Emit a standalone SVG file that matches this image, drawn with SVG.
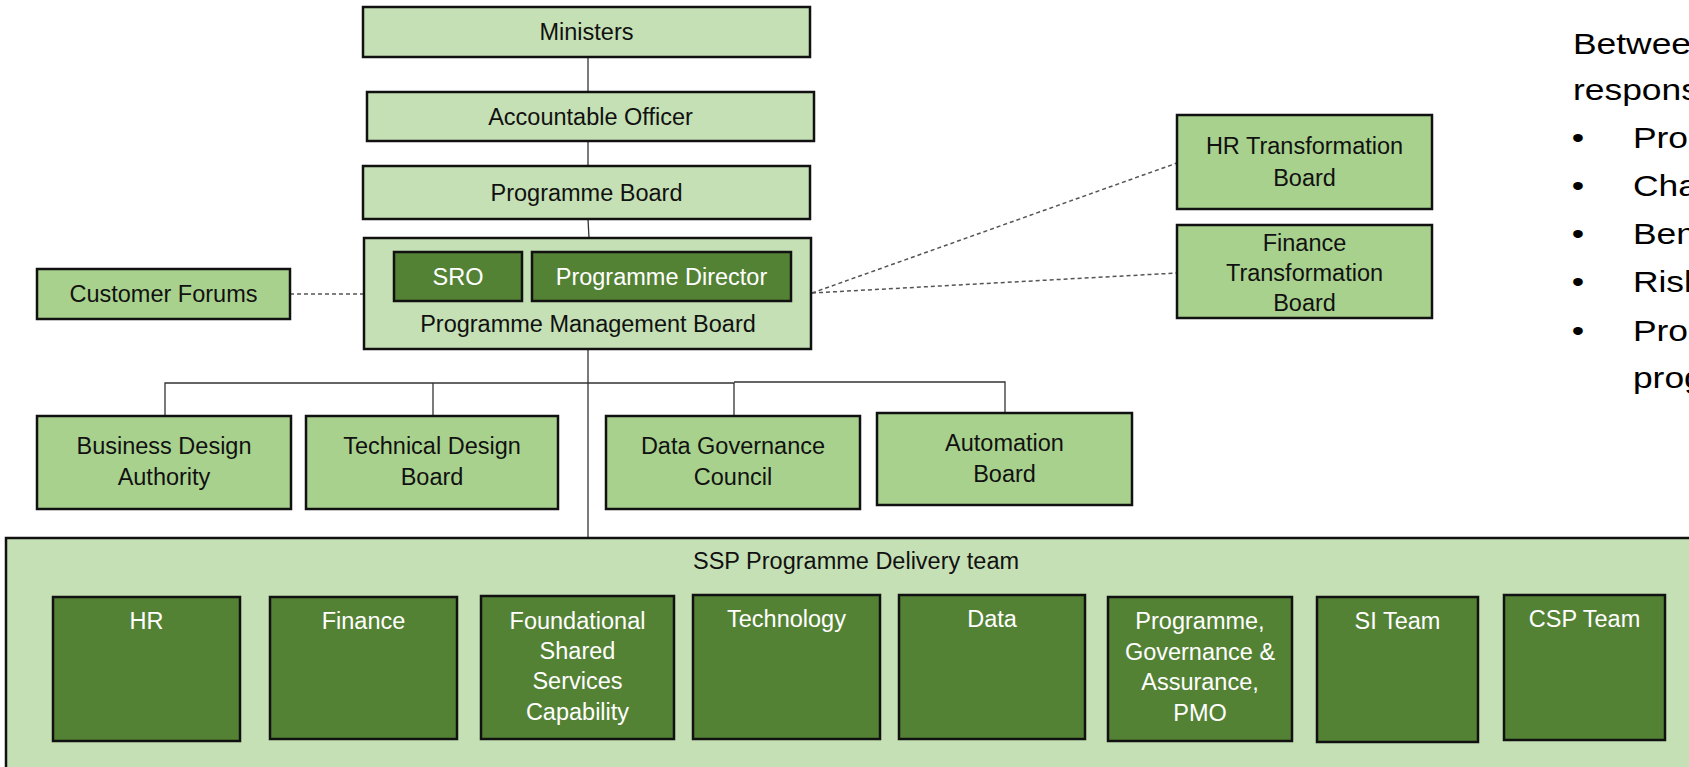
<svg xmlns="http://www.w3.org/2000/svg" width="1689" height="767" viewBox="0 0 1689 767">
<style>
.lt{fill:#C5E0B4;stroke:#111;stroke-width:2.5}
.md{fill:#A9D18E;stroke:#111;stroke-width:2.5}
.dk{fill:#548235;stroke:#111;stroke-width:2.5}
.t{font-family:"Liberation Sans",Arial,sans-serif;font-size:23.5px;fill:#111;text-anchor:middle}
.w{font-family:"Liberation Sans",Arial,sans-serif;font-size:23.5px;fill:#fff;text-anchor:middle}
.side{font-family:"Liberation Sans",Arial,sans-serif;font-size:30px;fill:#000}
.ln{stroke:#333;stroke-width:1.3;fill:none}
.ds{stroke:#555;stroke-width:1.5;stroke-dasharray:4 3;fill:none}
</style>
<rect width="1689" height="767" fill="#fff"/>
<g id="connectors">
<line class="ln" x1="588" y1="57" x2="588" y2="92"/>
<line class="ln" x1="588" y1="141" x2="588" y2="166"/>
<line class="ln" x1="588" y1="219" x2="589" y2="238"/>
<line class="ln" x1="588" y1="349" x2="588" y2="538"/>
<polyline class="ln" points="165,416 165,383 433,383 588,383"/>
<line class="ln" x1="433" y1="383" x2="433" y2="416"/>
<polyline class="ln" points="588,383 734,383 734,416"/>
<polyline class="ln" points="734,382 1005,382 1005,413"/>
<line class="ds" x1="290" y1="294" x2="364" y2="294"/>
<line class="ds" x1="812" y1="293" x2="1177" y2="163"/>
<line class="ds" x1="812" y1="293" x2="1177" y2="273"/>
</g>
<g id="ministers"><rect class="lt" x="363" y="7" width="447" height="50"/><text class="t" x="586.5" y="40">Ministers</text></g>
<g id="accountable-officer"><rect class="lt" x="367" y="92" width="447" height="49"/><text class="t" x="590.5" y="125">Accountable Officer</text></g>
<g id="programme-board"><rect class="lt" x="363" y="166" width="447" height="53"/><text class="t" x="586.5" y="201">Programme Board</text></g>
<g id="programme-management-board"><rect class="lt" x="364" y="238" width="447" height="111"/><text class="t" x="588" y="332">Programme Management Board</text></g>
<g id="sro"><rect class="dk" x="394" y="252" width="128" height="49"/><text class="w" x="458" y="285">SRO</text></g>
<g id="programme-director"><rect class="dk" x="532" y="252" width="259" height="49"/><text class="w" x="661.5" y="285">Programme Director</text></g>
<g id="customer-forums"><rect class="md" x="37" y="269" width="253" height="50"/><text class="t" x="163.5" y="302">Customer Forums</text></g>
<g id="hr-transformation-board"><rect class="md" x="1177" y="115" width="255" height="94"/><text class="t" x="1304.5" y="154">HR Transformation</text><text class="t" x="1304.5" y="186">Board</text></g>
<g id="finance-transformation-board"><rect class="md" x="1177" y="225" width="255" height="93"/><text class="t" x="1304.5" y="251">Finance</text><text class="t" x="1304.5" y="281">Transformation</text><text class="t" x="1304.5" y="311">Board</text></g>
<g id="business-design-authority"><rect class="md" x="37" y="416" width="254" height="93"/><text class="t" x="164" y="454">Business Design</text><text class="t" x="164" y="485">Authority</text></g>
<g id="technical-design-board"><rect class="md" x="306" y="416" width="252" height="93"/><text class="t" x="432" y="454">Technical Design</text><text class="t" x="432" y="485">Board</text></g>
<g id="data-governance-council"><rect class="md" x="606" y="416" width="254" height="93"/><text class="t" x="733" y="454">Data Governance</text><text class="t" x="733" y="485">Council</text></g>
<g id="automation-board"><rect class="md" x="877" y="413" width="255" height="92"/><text class="t" x="1004.5" y="451">Automation</text><text class="t" x="1004.5" y="482">Board</text></g>
<g id="ssp-programme-delivery-team"><rect class="lt" x="6" y="538" width="1700" height="240"/><text class="t" x="856" y="569">SSP Programme Delivery  team</text></g>
<g id="hr"><rect class="dk" x="53" y="597" width="187" height="144"/><text class="w" x="146.5" y="629">HR</text></g>
<g id="finance"><rect class="dk" x="270" y="597" width="187" height="142"/><text class="w" x="363.5" y="629">Finance</text></g>
<g id="foundational"><rect class="dk" x="481" y="596" width="193" height="143"/><text class="w" x="577.5" y="629">Foundational</text><text class="w" x="577.5" y="659">Shared</text><text class="w" x="577.5" y="689">Services</text><text class="w" x="577.5" y="720">Capability</text></g>
<g id="technology"><rect class="dk" x="693" y="595" width="187" height="144"/><text class="w" x="786.5" y="627">Technology</text></g>
<g id="data"><rect class="dk" x="899" y="595" width="186" height="144"/><text class="w" x="992" y="627">Data</text></g>
<g id="programme-governance"><rect class="dk" x="1108" y="597" width="184" height="144"/><text class="w" x="1200" y="629">Programme,</text><text class="w" x="1200" y="660">Governance &amp;</text><text class="w" x="1200" y="690">Assurance,</text><text class="w" x="1200" y="721">PMO</text></g>
<g id="si-team"><rect class="dk" x="1317" y="597" width="161" height="145"/><text class="w" x="1397.5" y="629">SI Team</text></g>
<g id="csp-team"><rect class="dk" x="1504" y="595" width="161" height="145"/><text class="w" x="1584.5" y="627">CSP Team</text></g>
<g id="side-text" transform="translate(1573,0) scale(1.18,1)">
<text class="side" x="0" y="54">Betwee</text>
<text class="side" x="0" y="100">respons</text>
<text class="side" x="-1" y="148.5">•</text><text class="side" x="50.8" y="148.5">Prog</text>
<text class="side" x="-1" y="196">•</text><text class="side" x="50.8" y="196">Cha</text>
<text class="side" x="-1" y="244">•</text><text class="side" x="50.8" y="244">Ben</text>
<text class="side" x="-1" y="292.5">•</text><text class="side" x="50.8" y="292.5">Risk</text>
<text class="side" x="-1" y="341">•</text><text class="side" x="50.8" y="341">Prog</text>
<text class="side" x="50.8" y="388">prog</text>
</g>
</svg>
